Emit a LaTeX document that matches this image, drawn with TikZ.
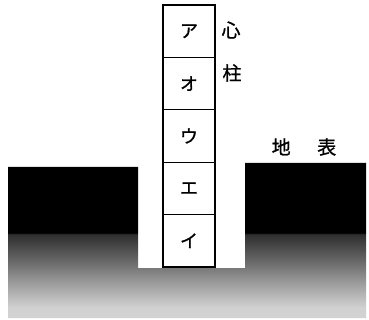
\documentclass[tikz,border=0pt]{standalone}
\usepackage{fontspec}
\newfontfamily\jpfont{Noto Sans CJK JP}[FakeBold=1]
\usetikzlibrary{positioning}

% ground: solid black near the surface, fading out with depth
% (the path only covers roughly 28bp..72bp of this shading)
\pgfdeclareverticalshading{groundfade}{100bp}{color(0bp)=(black!15); color(28.35bp)=(black!18); color(36bp)=(black!38); color(43bp)=(black!58); color(52bp)=(black!82); color(52.5bp)=(black); color(100bp)=(black)}

\begin{document}
\begin{tikzpicture}[x=1pt, y=-1pt, node distance=52.4pt]
    \tikzstyle{segment} = [rectangle, draw=black, line width=1.2pt, minimum width=52pt, minimum height=52.4pt, inner sep=0pt, font=\jpfont\fontsize{18}{18}\selectfont]
    \tikzstyle{label} = [inner sep=0pt, font=\jpfont\fontsize{19}{19}\selectfont]
    \useasboundingbox (0,0) rectangle (369,320);

    % Ground with the pit
    \shade[shading=groundfade] (8,167) -- (138,167) -- (138,268) -- (245,268) -- (245,163)
        -- (366,163) -- (366,318) -- (8,318) -- cycle;

    % Pillar segments
    \node [segment] (seg_a) at (189,31.2) {ア};
    \node [segment, below of=seg_a] (seg_o) {オ};
    \node [segment, below of=seg_o] (seg_u) {ウ};
    \node [segment, below of=seg_u] (seg_e) {エ};
    \node [segment, below of=seg_e] (seg_i) {イ};

    % Labels
    \node [label] (shin) at (231,30) {心};
    \node [label] (hashira) at (232,73) {柱};
    \node [label] (chihyo) at (304,147) {地\hspace{1.4em}表};
\end{tikzpicture}
\end{document}
